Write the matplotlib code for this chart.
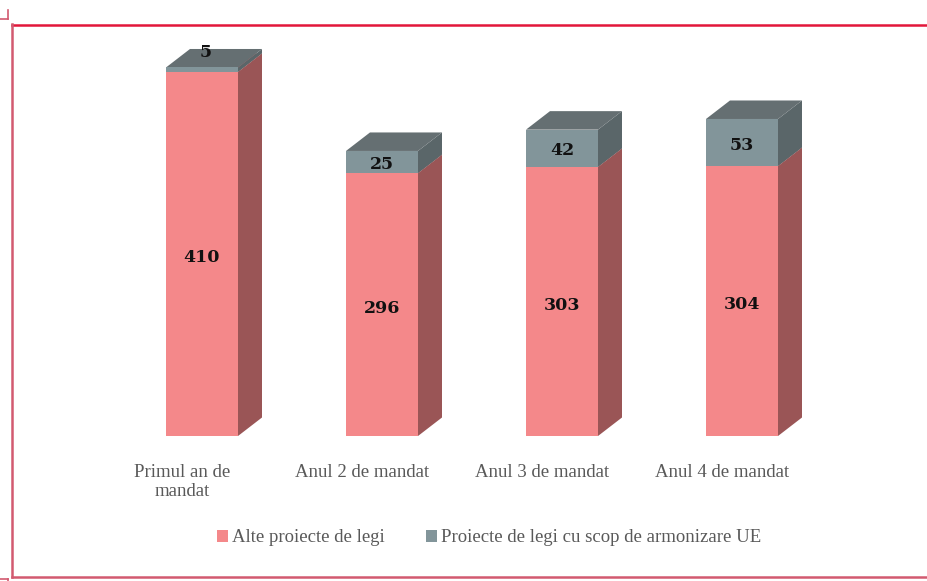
import matplotlib
matplotlib.use("Agg")
import matplotlib.pyplot as plt
from matplotlib.patches import Polygon, Patch
from matplotlib.lines import Line2D

categories = ["Primul an de\nmandat", "Anul 2 de mandat", "Anul 3 de mandat", "Anul 4 de mandat"]
alte = [410, 296, 303, 304]
armonizare = [5, 25, 42, 53]
series_names = ["Alte proiecte de legi", "Proiecte de legi cu scop de armonizare UE"]

# colours
red_front, red_side, red_top = "#F4888A", "#9A5556", "#C06C6E"
grey_front, grey_side, grey_top = "#82959A", "#5A6669", "#656F72"
text_grey = "#595959"
serif = ["Liberation Serif", "DejaVu Serif"]
label_font = ["DejaVu Serif", "Liberation Serif"]

W, H = 928, 581
fig = plt.figure(figsize=(W / 100, H / 100), dpi=100)

# axes mapped onto pixel layout
ymax = 460
px_per_unit = 0.888
ax_left, ax_right, base_px = 112, 832, 436
ax_h = ymax * px_per_unit
ax = fig.add_axes([ax_left / W, (H - base_px) / H, (ax_right - ax_left) / W, ax_h / H])
ax.set_xlim(-0.5, 3.5)
ax.set_ylim(0, ymax)
ax.axis("off")

bw = 0.4
dx = 24 / 180
dy = 18.5 / px_per_unit

def box(x, y0, y1, front, side, top):
    xl, xr = x - bw / 2, x + bw / 2
    ax.bar(x, y1 - y0, bottom=y0, width=bw, color=front, edgecolor="none", zorder=3)
    ax.add_patch(Polygon([(xr, y0), (xr + dx, y0 + dy), (xr + dx, y1 + dy), (xr, y1)],
                         closed=True, facecolor=side, edgecolor="none", zorder=2))
    ax.add_patch(Polygon([(xl, y1), (xl + dx, y1 + dy), (xr + dx, y1 + dy), (xr, y1)],
                         closed=True, facecolor=top, edgecolor="none", zorder=2))

for i, (a, b) in enumerate(zip(alte, armonizare)):
    box(i, 0, a, red_front, red_side, red_top)
    box(i, a, a + b, grey_front, grey_side, grey_top)
    ax.text(i, a / 2 - 4, str(a), ha="center", va="center", fontsize=12.5,
            fontweight="bold", family=label_font, color="#111111", zorder=5)
    if b < 15:
        ly = a + b + dy * 0.8
        lx = i + 0.02
    else:
        ly = a + b / 2 - 3
        lx = i
    ax.text(lx, ly, str(b), ha="center", va="center", fontsize=12.5,
            fontweight="bold", family=label_font, color="#111111", zorder=5)

# category labels
for i, c in enumerate(categories):
    ax.text(i - 0.11, -28 / px_per_unit, c, ha="center", va="top", fontsize=13.5,
            family=serif, color=text_grey, linespacing=1.15, clip_on=False)

# legend
handles = [Patch(facecolor=red_front, edgecolor="none"), Patch(facecolor=grey_front, edgecolor="none")]
leg = fig.legend(handles, series_names, loc="center", bbox_to_anchor=(489 / W, 1 - 538 / H),
                 ncol=2, frameon=False, handlelength=0.6, handleheight=0.6, handletextpad=0.2,
                 columnspacing=2.2, prop={"family": serif, "size": 13.5})
for t in leg.get_texts():
    t.set_color(text_grey)

# frame
def fl(x0, y0, x1, y1, color, lw=1.8):
    fig.add_artist(Line2D([x0 / W, x1 / W], [1 - y0 / H, 1 - y1 / H], color=color, lw=lw,
                          transform=fig.transFigure))

fl(12, 24.5, 930, 24.5, "#E2173A")
fl(12, 24, 12, 577, "#D25A70")
fl(12, 576.5, 930, 576.5, "#D25A70")
fl(0, 19, 8, 19, "#D25A70", 1.2)
fl(7.5, 10, 7.5, 19, "#D25A70", 1.2)
fl(0, 578.5, 8, 578.5, "#D25A70", 1.2)
fl(7.5, 578.5, 7.5, 582, "#D25A70", 1.2)

fig.savefig("out.png", dpi=100, facecolor="white")
